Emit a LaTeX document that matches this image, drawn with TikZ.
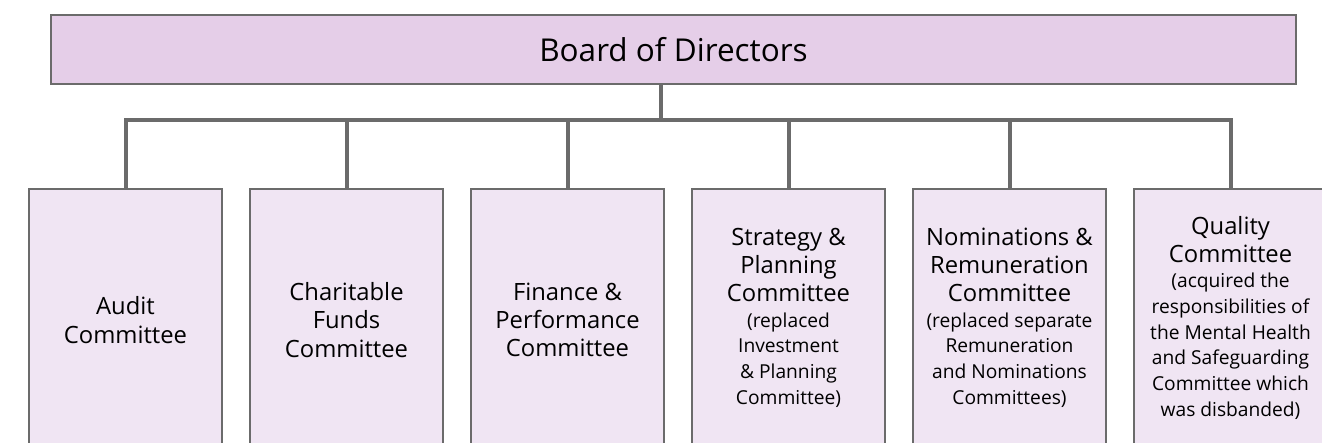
\documentclass[tikz,border=0pt]{standalone}
\usepackage{fontspec}
\setmainfont{Open Sans}
\usepackage{xcolor}
\usepackage{tikz}
\usetikzlibrary{positioning}

\definecolor{boardfill}{HTML}{E5CEE8}
\definecolor{cttfill}{HTML}{F0E5F3}
\definecolor{edge}{HTML}{6B6B6B}

\newcommand{\head}{\fontsize{23.8}{28.3}\selectfont}
% small remark under a committee name
\newcommand{\remark}[1]{\fontsize{19.2}{25.7}\selectfont
  \begin{tabular}[t]{@{}c@{}}#1\end{tabular}}

\tikzset{
  board/.style={draw=edge, line width=2pt, fill=boardfill, minimum width=1245pt,
    minimum height=69pt, inner sep=0pt, font=\fontsize{31.5}{36}\selectfont},
  ctt/.style={draw=edge, line width=2pt, fill=cttfill, minimum width=193pt,
    minimum height=262pt, inner sep=0pt, align=center, font=\head},
  link/.style={draw=edge, line width=4pt, line join=miter}
}

\begin{document}
\begin{tikzpicture}[x=1pt, y=-1pt]
  \clip (0,0) rectangle (1322,442);
  \node[board] (board) at (673.5,49.5) {Board of Directors};
  \node[ctt] (c1) at (125.5,320) {Audit\\Committee};
  \node[ctt, right=26pt of c1] (c2) {Charitable\\Funds\\Committee};
  \node[ctt, right=26pt of c2] (c3) {Finance \&\\Performance\\Committee};
  \node[ctt, right=26pt of c3] (c4) {Strategy \&\\Planning\\Committee\\[-3pt]
    \remark{(replaced\\Investment\\\& Planning\\Committee)}};
  \node[ctt, right=26pt of c4] (c5) {Nominations \&\\Remuneration\\Committee\\[-3pt]
    \remark{(replaced separate\\Remuneration\\and Nominations\\Committees)}};
  \node[ctt, right=26pt of c5] (c6) {Quality\\Committee\\[-3pt]
    \remark{(acquired the\\responsibilities of\\the Mental Health\\
    and Safeguarding\\Committee which\\was disbanded)}};
  % bus under the board
  \coordinate (bus) at (661,120);
  \draw[link] (board.south -| bus) -- (bus);
  \draw[link] (c1.north) |- (c6.north |- bus) -- (c6.north);
  \foreach \i in {2,...,5}
    \draw[link] (c\i.north) -- (c\i.north |- bus);
\end{tikzpicture}
\end{document}
